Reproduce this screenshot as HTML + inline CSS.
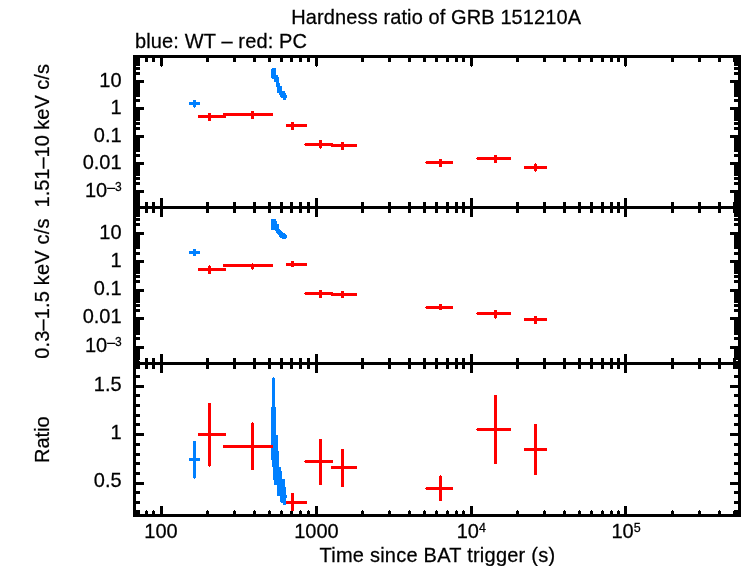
<!DOCTYPE html>
<html lang="en"><head><meta charset="utf-8"><title>Hardness ratio of GRB 151210A</title>
<style>html,body{margin:0;padding:0;background:#fff;overflow:hidden}svg{display:block}text{font-family:"Liberation Sans",sans-serif;fill:#000;stroke:#000;stroke-width:0.25px}</style></head><body>
<svg width="742" height="566" viewBox="0 0 742 566">
<rect width="742" height="566" fill="#fff"/>
<g fill="#000000" shape-rendering="crispEdges">
<rect x="133" y="55" width="3" height="462"/>
<rect x="738" y="55" width="3" height="462"/>
<rect x="133" y="55" width="608" height="3"/>
<rect x="133" y="514" width="608" height="3"/>
<rect x="133" y="206" width="608" height="3"/>
<rect x="133" y="362" width="608" height="3"/>
<rect x="145" y="58" width="3" height="4"/>
<rect x="145" y="511" width="3" height="3"/>
<rect x="146" y="510" width="1" height="1"/>
<rect x="145" y="202" width="3" height="11"/>
<rect x="145" y="358" width="3" height="11"/>
<rect x="152" y="58" width="3" height="4"/>
<rect x="152" y="511" width="3" height="3"/>
<rect x="153" y="510" width="1" height="1"/>
<rect x="152" y="202" width="3" height="11"/>
<rect x="152" y="358" width="3" height="11"/>
<rect x="160" y="58" width="3" height="8"/>
<rect x="161" y="66" width="1" height="1"/>
<rect x="160" y="506" width="3" height="8"/>
<rect x="160" y="198" width="3" height="19"/>
<rect x="160" y="354" width="3" height="19"/>
<rect x="206" y="58" width="3" height="4"/>
<rect x="206" y="511" width="3" height="3"/>
<rect x="207" y="510" width="1" height="1"/>
<rect x="206" y="202" width="3" height="11"/>
<rect x="206" y="358" width="3" height="11"/>
<rect x="233" y="58" width="3" height="4"/>
<rect x="233" y="511" width="3" height="3"/>
<rect x="234" y="510" width="1" height="1"/>
<rect x="233" y="202" width="3" height="11"/>
<rect x="233" y="358" width="3" height="11"/>
<rect x="253" y="58" width="3" height="4"/>
<rect x="253" y="511" width="3" height="3"/>
<rect x="254" y="510" width="1" height="1"/>
<rect x="253" y="202" width="3" height="11"/>
<rect x="253" y="358" width="3" height="11"/>
<rect x="268" y="58" width="3" height="4"/>
<rect x="268" y="511" width="3" height="3"/>
<rect x="269" y="510" width="1" height="1"/>
<rect x="268" y="202" width="3" height="11"/>
<rect x="268" y="358" width="3" height="11"/>
<rect x="280" y="58" width="3" height="4"/>
<rect x="280" y="511" width="3" height="3"/>
<rect x="281" y="510" width="1" height="1"/>
<rect x="280" y="202" width="3" height="11"/>
<rect x="280" y="358" width="3" height="11"/>
<rect x="290" y="58" width="3" height="4"/>
<rect x="290" y="511" width="3" height="3"/>
<rect x="291" y="510" width="1" height="1"/>
<rect x="290" y="202" width="3" height="11"/>
<rect x="290" y="358" width="3" height="11"/>
<rect x="299" y="58" width="3" height="4"/>
<rect x="299" y="511" width="3" height="3"/>
<rect x="300" y="510" width="1" height="1"/>
<rect x="299" y="202" width="3" height="11"/>
<rect x="299" y="358" width="3" height="11"/>
<rect x="307" y="58" width="3" height="4"/>
<rect x="307" y="511" width="3" height="3"/>
<rect x="308" y="510" width="1" height="1"/>
<rect x="307" y="202" width="3" height="11"/>
<rect x="307" y="358" width="3" height="11"/>
<rect x="315" y="58" width="3" height="8"/>
<rect x="316" y="66" width="1" height="1"/>
<rect x="315" y="506" width="3" height="8"/>
<rect x="315" y="198" width="3" height="19"/>
<rect x="315" y="354" width="3" height="19"/>
<rect x="361" y="58" width="3" height="4"/>
<rect x="361" y="511" width="3" height="3"/>
<rect x="362" y="510" width="1" height="1"/>
<rect x="361" y="202" width="3" height="11"/>
<rect x="361" y="358" width="3" height="11"/>
<rect x="388" y="58" width="3" height="4"/>
<rect x="388" y="511" width="3" height="3"/>
<rect x="389" y="510" width="1" height="1"/>
<rect x="388" y="202" width="3" height="11"/>
<rect x="388" y="358" width="3" height="11"/>
<rect x="408" y="58" width="3" height="4"/>
<rect x="408" y="511" width="3" height="3"/>
<rect x="409" y="510" width="1" height="1"/>
<rect x="408" y="202" width="3" height="11"/>
<rect x="408" y="358" width="3" height="11"/>
<rect x="423" y="58" width="3" height="4"/>
<rect x="423" y="511" width="3" height="3"/>
<rect x="424" y="510" width="1" height="1"/>
<rect x="423" y="202" width="3" height="11"/>
<rect x="423" y="358" width="3" height="11"/>
<rect x="435" y="58" width="3" height="4"/>
<rect x="435" y="511" width="3" height="3"/>
<rect x="436" y="510" width="1" height="1"/>
<rect x="435" y="202" width="3" height="11"/>
<rect x="435" y="358" width="3" height="11"/>
<rect x="446" y="58" width="3" height="4"/>
<rect x="446" y="511" width="3" height="3"/>
<rect x="447" y="510" width="1" height="1"/>
<rect x="446" y="202" width="3" height="11"/>
<rect x="446" y="358" width="3" height="11"/>
<rect x="455" y="58" width="3" height="4"/>
<rect x="455" y="511" width="3" height="3"/>
<rect x="456" y="510" width="1" height="1"/>
<rect x="455" y="202" width="3" height="11"/>
<rect x="455" y="358" width="3" height="11"/>
<rect x="462" y="58" width="3" height="4"/>
<rect x="462" y="511" width="3" height="3"/>
<rect x="463" y="510" width="1" height="1"/>
<rect x="462" y="202" width="3" height="11"/>
<rect x="462" y="358" width="3" height="11"/>
<rect x="470" y="58" width="3" height="8"/>
<rect x="471" y="66" width="1" height="1"/>
<rect x="470" y="506" width="3" height="8"/>
<rect x="470" y="198" width="3" height="19"/>
<rect x="470" y="354" width="3" height="19"/>
<rect x="516" y="58" width="3" height="4"/>
<rect x="516" y="511" width="3" height="3"/>
<rect x="517" y="510" width="1" height="1"/>
<rect x="516" y="202" width="3" height="11"/>
<rect x="516" y="358" width="3" height="11"/>
<rect x="543" y="58" width="3" height="4"/>
<rect x="543" y="511" width="3" height="3"/>
<rect x="544" y="510" width="1" height="1"/>
<rect x="543" y="202" width="3" height="11"/>
<rect x="543" y="358" width="3" height="11"/>
<rect x="563" y="58" width="3" height="4"/>
<rect x="563" y="511" width="3" height="3"/>
<rect x="564" y="510" width="1" height="1"/>
<rect x="563" y="202" width="3" height="11"/>
<rect x="563" y="358" width="3" height="11"/>
<rect x="578" y="58" width="3" height="4"/>
<rect x="578" y="511" width="3" height="3"/>
<rect x="579" y="510" width="1" height="1"/>
<rect x="578" y="202" width="3" height="11"/>
<rect x="578" y="358" width="3" height="11"/>
<rect x="590" y="58" width="3" height="4"/>
<rect x="590" y="511" width="3" height="3"/>
<rect x="591" y="510" width="1" height="1"/>
<rect x="590" y="202" width="3" height="11"/>
<rect x="590" y="358" width="3" height="11"/>
<rect x="601" y="58" width="3" height="4"/>
<rect x="601" y="511" width="3" height="3"/>
<rect x="602" y="510" width="1" height="1"/>
<rect x="601" y="202" width="3" height="11"/>
<rect x="601" y="358" width="3" height="11"/>
<rect x="610" y="58" width="3" height="4"/>
<rect x="610" y="511" width="3" height="3"/>
<rect x="611" y="510" width="1" height="1"/>
<rect x="610" y="202" width="3" height="11"/>
<rect x="610" y="358" width="3" height="11"/>
<rect x="617" y="58" width="3" height="4"/>
<rect x="617" y="511" width="3" height="3"/>
<rect x="618" y="510" width="1" height="1"/>
<rect x="617" y="202" width="3" height="11"/>
<rect x="617" y="358" width="3" height="11"/>
<rect x="624" y="58" width="3" height="8"/>
<rect x="625" y="66" width="1" height="1"/>
<rect x="624" y="506" width="3" height="8"/>
<rect x="624" y="198" width="3" height="19"/>
<rect x="624" y="354" width="3" height="19"/>
<rect x="671" y="58" width="3" height="4"/>
<rect x="671" y="511" width="3" height="3"/>
<rect x="672" y="510" width="1" height="1"/>
<rect x="671" y="202" width="3" height="11"/>
<rect x="671" y="358" width="3" height="11"/>
<rect x="698" y="58" width="3" height="4"/>
<rect x="698" y="511" width="3" height="3"/>
<rect x="699" y="510" width="1" height="1"/>
<rect x="698" y="202" width="3" height="11"/>
<rect x="698" y="358" width="3" height="11"/>
<rect x="718" y="58" width="3" height="4"/>
<rect x="718" y="511" width="3" height="3"/>
<rect x="719" y="510" width="1" height="1"/>
<rect x="718" y="202" width="3" height="11"/>
<rect x="718" y="358" width="3" height="11"/>
<rect x="733" y="58" width="3" height="4"/>
<rect x="733" y="511" width="3" height="3"/>
<rect x="734" y="510" width="1" height="1"/>
<rect x="733" y="202" width="3" height="11"/>
<rect x="733" y="358" width="3" height="11"/>
<rect x="136" y="204" width="4" height="3"/>
<rect x="734" y="204" width="4" height="3"/>
<rect x="136" y="201" width="4" height="3"/>
<rect x="734" y="201" width="4" height="3"/>
<rect x="136" y="198" width="4" height="3"/>
<rect x="734" y="198" width="4" height="3"/>
<rect x="136" y="196" width="4" height="3"/>
<rect x="734" y="196" width="4" height="3"/>
<rect x="136" y="194" width="4" height="3"/>
<rect x="734" y="194" width="4" height="3"/>
<rect x="136" y="193" width="4" height="3"/>
<rect x="734" y="193" width="4" height="3"/>
<rect x="136" y="191" width="4" height="3"/>
<rect x="734" y="191" width="4" height="3"/>
<rect x="136" y="190" width="8" height="3"/>
<rect x="730" y="190" width="8" height="3"/>
<rect x="136" y="182" width="4" height="3"/>
<rect x="734" y="182" width="4" height="3"/>
<rect x="136" y="177" width="4" height="3"/>
<rect x="734" y="177" width="4" height="3"/>
<rect x="136" y="173" width="4" height="3"/>
<rect x="734" y="173" width="4" height="3"/>
<rect x="136" y="171" width="4" height="3"/>
<rect x="734" y="171" width="4" height="3"/>
<rect x="136" y="169" width="4" height="3"/>
<rect x="734" y="169" width="4" height="3"/>
<rect x="136" y="167" width="4" height="3"/>
<rect x="734" y="167" width="4" height="3"/>
<rect x="136" y="165" width="4" height="3"/>
<rect x="734" y="165" width="4" height="3"/>
<rect x="136" y="164" width="4" height="3"/>
<rect x="734" y="164" width="4" height="3"/>
<rect x="136" y="162" width="8" height="3"/>
<rect x="730" y="162" width="8" height="3"/>
<rect x="136" y="154" width="4" height="3"/>
<rect x="734" y="154" width="4" height="3"/>
<rect x="136" y="149" width="4" height="3"/>
<rect x="734" y="149" width="4" height="3"/>
<rect x="136" y="146" width="4" height="3"/>
<rect x="734" y="146" width="4" height="3"/>
<rect x="136" y="143" width="4" height="3"/>
<rect x="734" y="143" width="4" height="3"/>
<rect x="136" y="141" width="4" height="3"/>
<rect x="734" y="141" width="4" height="3"/>
<rect x="136" y="139" width="4" height="3"/>
<rect x="734" y="139" width="4" height="3"/>
<rect x="136" y="138" width="4" height="3"/>
<rect x="734" y="138" width="4" height="3"/>
<rect x="136" y="136" width="4" height="3"/>
<rect x="734" y="136" width="4" height="3"/>
<rect x="136" y="135" width="8" height="3"/>
<rect x="730" y="135" width="8" height="3"/>
<rect x="136" y="127" width="4" height="3"/>
<rect x="734" y="127" width="4" height="3"/>
<rect x="136" y="122" width="4" height="3"/>
<rect x="734" y="122" width="4" height="3"/>
<rect x="136" y="118" width="4" height="3"/>
<rect x="734" y="118" width="4" height="3"/>
<rect x="136" y="116" width="4" height="3"/>
<rect x="734" y="116" width="4" height="3"/>
<rect x="136" y="114" width="4" height="3"/>
<rect x="734" y="114" width="4" height="3"/>
<rect x="136" y="112" width="4" height="3"/>
<rect x="734" y="112" width="4" height="3"/>
<rect x="136" y="110" width="4" height="3"/>
<rect x="734" y="110" width="4" height="3"/>
<rect x="136" y="109" width="4" height="3"/>
<rect x="734" y="109" width="4" height="3"/>
<rect x="136" y="107" width="8" height="3"/>
<rect x="730" y="107" width="8" height="3"/>
<rect x="136" y="99" width="4" height="3"/>
<rect x="734" y="99" width="4" height="3"/>
<rect x="136" y="94" width="4" height="3"/>
<rect x="734" y="94" width="4" height="3"/>
<rect x="136" y="91" width="4" height="3"/>
<rect x="734" y="91" width="4" height="3"/>
<rect x="136" y="88" width="4" height="3"/>
<rect x="734" y="88" width="4" height="3"/>
<rect x="136" y="86" width="4" height="3"/>
<rect x="734" y="86" width="4" height="3"/>
<rect x="136" y="84" width="4" height="3"/>
<rect x="734" y="84" width="4" height="3"/>
<rect x="136" y="83" width="4" height="3"/>
<rect x="734" y="83" width="4" height="3"/>
<rect x="136" y="81" width="4" height="3"/>
<rect x="734" y="81" width="4" height="3"/>
<rect x="136" y="80" width="8" height="3"/>
<rect x="730" y="80" width="8" height="3"/>
<rect x="136" y="72" width="4" height="3"/>
<rect x="734" y="72" width="4" height="3"/>
<rect x="136" y="67" width="4" height="3"/>
<rect x="734" y="67" width="4" height="3"/>
<rect x="136" y="63" width="4" height="3"/>
<rect x="734" y="63" width="4" height="3"/>
<rect x="136" y="61" width="4" height="3"/>
<rect x="734" y="61" width="4" height="3"/>
<rect x="136" y="59" width="4" height="3"/>
<rect x="734" y="59" width="4" height="3"/>
<rect x="136" y="57" width="4" height="3"/>
<rect x="734" y="57" width="4" height="3"/>
<rect x="136" y="361" width="4" height="3"/>
<rect x="734" y="361" width="4" height="3"/>
<rect x="136" y="357" width="4" height="3"/>
<rect x="734" y="357" width="4" height="3"/>
<rect x="136" y="354" width="4" height="3"/>
<rect x="734" y="354" width="4" height="3"/>
<rect x="136" y="352" width="4" height="3"/>
<rect x="734" y="352" width="4" height="3"/>
<rect x="136" y="350" width="4" height="3"/>
<rect x="734" y="350" width="4" height="3"/>
<rect x="136" y="349" width="4" height="3"/>
<rect x="734" y="349" width="4" height="3"/>
<rect x="136" y="347" width="4" height="3"/>
<rect x="734" y="347" width="4" height="3"/>
<rect x="136" y="346" width="8" height="3"/>
<rect x="730" y="346" width="8" height="3"/>
<rect x="136" y="337" width="4" height="3"/>
<rect x="734" y="337" width="4" height="3"/>
<rect x="136" y="332" width="4" height="3"/>
<rect x="734" y="332" width="4" height="3"/>
<rect x="136" y="329" width="4" height="3"/>
<rect x="734" y="329" width="4" height="3"/>
<rect x="136" y="326" width="4" height="3"/>
<rect x="734" y="326" width="4" height="3"/>
<rect x="136" y="324" width="4" height="3"/>
<rect x="734" y="324" width="4" height="3"/>
<rect x="136" y="322" width="4" height="3"/>
<rect x="734" y="322" width="4" height="3"/>
<rect x="136" y="320" width="4" height="3"/>
<rect x="734" y="320" width="4" height="3"/>
<rect x="136" y="319" width="4" height="3"/>
<rect x="734" y="319" width="4" height="3"/>
<rect x="136" y="317" width="8" height="3"/>
<rect x="730" y="317" width="8" height="3"/>
<rect x="136" y="309" width="4" height="3"/>
<rect x="734" y="309" width="4" height="3"/>
<rect x="136" y="304" width="4" height="3"/>
<rect x="734" y="304" width="4" height="3"/>
<rect x="136" y="300" width="4" height="3"/>
<rect x="734" y="300" width="4" height="3"/>
<rect x="136" y="297" width="4" height="3"/>
<rect x="734" y="297" width="4" height="3"/>
<rect x="136" y="295" width="4" height="3"/>
<rect x="734" y="295" width="4" height="3"/>
<rect x="136" y="293" width="4" height="3"/>
<rect x="734" y="293" width="4" height="3"/>
<rect x="136" y="291" width="4" height="3"/>
<rect x="734" y="291" width="4" height="3"/>
<rect x="136" y="290" width="4" height="3"/>
<rect x="734" y="290" width="4" height="3"/>
<rect x="136" y="289" width="8" height="3"/>
<rect x="730" y="289" width="8" height="3"/>
<rect x="136" y="280" width="4" height="3"/>
<rect x="734" y="280" width="4" height="3"/>
<rect x="136" y="275" width="4" height="3"/>
<rect x="734" y="275" width="4" height="3"/>
<rect x="136" y="271" width="4" height="3"/>
<rect x="734" y="271" width="4" height="3"/>
<rect x="136" y="269" width="4" height="3"/>
<rect x="734" y="269" width="4" height="3"/>
<rect x="136" y="266" width="4" height="3"/>
<rect x="734" y="266" width="4" height="3"/>
<rect x="136" y="265" width="4" height="3"/>
<rect x="734" y="265" width="4" height="3"/>
<rect x="136" y="263" width="4" height="3"/>
<rect x="734" y="263" width="4" height="3"/>
<rect x="136" y="261" width="4" height="3"/>
<rect x="734" y="261" width="4" height="3"/>
<rect x="136" y="260" width="8" height="3"/>
<rect x="730" y="260" width="8" height="3"/>
<rect x="136" y="252" width="4" height="3"/>
<rect x="734" y="252" width="4" height="3"/>
<rect x="136" y="246" width="4" height="3"/>
<rect x="734" y="246" width="4" height="3"/>
<rect x="136" y="243" width="4" height="3"/>
<rect x="734" y="243" width="4" height="3"/>
<rect x="136" y="240" width="4" height="3"/>
<rect x="734" y="240" width="4" height="3"/>
<rect x="136" y="238" width="4" height="3"/>
<rect x="734" y="238" width="4" height="3"/>
<rect x="136" y="236" width="4" height="3"/>
<rect x="734" y="236" width="4" height="3"/>
<rect x="136" y="234" width="4" height="3"/>
<rect x="734" y="234" width="4" height="3"/>
<rect x="136" y="233" width="4" height="3"/>
<rect x="734" y="233" width="4" height="3"/>
<rect x="136" y="232" width="8" height="3"/>
<rect x="730" y="232" width="8" height="3"/>
<rect x="136" y="223" width="4" height="3"/>
<rect x="734" y="223" width="4" height="3"/>
<rect x="136" y="218" width="4" height="3"/>
<rect x="734" y="218" width="4" height="3"/>
<rect x="136" y="214" width="4" height="3"/>
<rect x="734" y="214" width="4" height="3"/>
<rect x="136" y="212" width="4" height="3"/>
<rect x="734" y="212" width="4" height="3"/>
<rect x="136" y="209" width="4" height="3"/>
<rect x="734" y="209" width="4" height="3"/>
<rect x="136" y="207" width="4" height="3"/>
<rect x="734" y="207" width="4" height="3"/>
<rect x="136" y="366" width="4" height="3"/>
<rect x="734" y="366" width="4" height="3"/>
<rect x="136" y="375" width="4" height="3"/>
<rect x="734" y="375" width="4" height="3"/>
<rect x="136" y="385" width="8" height="3"/>
<rect x="730" y="385" width="8" height="3"/>
<rect x="136" y="394" width="4" height="3"/>
<rect x="734" y="394" width="4" height="3"/>
<rect x="136" y="404" width="4" height="3"/>
<rect x="734" y="404" width="4" height="3"/>
<rect x="136" y="414" width="4" height="3"/>
<rect x="734" y="414" width="4" height="3"/>
<rect x="136" y="423" width="4" height="3"/>
<rect x="734" y="423" width="4" height="3"/>
<rect x="136" y="433" width="8" height="3"/>
<rect x="730" y="433" width="8" height="3"/>
<rect x="136" y="443" width="4" height="3"/>
<rect x="734" y="443" width="4" height="3"/>
<rect x="136" y="453" width="4" height="3"/>
<rect x="734" y="453" width="4" height="3"/>
<rect x="136" y="462" width="4" height="3"/>
<rect x="734" y="462" width="4" height="3"/>
<rect x="136" y="472" width="4" height="3"/>
<rect x="734" y="472" width="4" height="3"/>
<rect x="136" y="482" width="8" height="3"/>
<rect x="730" y="482" width="8" height="3"/>
<rect x="136" y="491" width="4" height="3"/>
<rect x="734" y="491" width="4" height="3"/>
<rect x="136" y="501" width="4" height="3"/>
<rect x="734" y="501" width="4" height="3"/>
<rect x="136" y="510" width="4" height="3"/>
<rect x="734" y="510" width="4" height="3"/>
<rect x="136" y="360" width="3" height="2"/>
<rect x="735" y="360" width="3" height="2"/>
<rect x="136" y="513" width="4" height="1"/>
<rect x="734" y="513" width="4" height="1"/>
<rect x="136" y="365" width="4" height="4"/>
<rect x="734" y="365" width="4" height="4"/>
</g>
<rect x="736" y="360" width="2" height="1" fill="#fff" shape-rendering="crispEdges"/>
<g fill="#0080ff" shape-rendering="crispEdges">
<polygon points="272,68 276,68 276,75 278,75 278,77 279,77 279,83 280,83 280,86 282,86 282,91 285,91 285,93 286,93 286,95 287,95 287,98 286,98 286,100 283,100 283,98 281,98 281,97 280,97 280,95 279,95 279,93 277,93 277,87 276,87 276,82 274,82 274,79 272,79 272,78 271,78 271,69 272,69"/>
<polygon points="271,219 276,219 276,221 277,221 277,224 279,224 279,229 280,229 280,230 281,230 281,231 282,231 282,232 283,232 283,233 285,233 285,234 286,234 286,235 287,235 287,238 286,238 286,239 282,239 282,238 280,238 280,237 279,237 279,235 278,235 278,234 277,234 277,233 276,233 276,231 275,231 275,230 271,230"/>
<polygon points="273,377 274,377 274,378 275,378 275,407 276,407 276,435 278,435 278,451 279,451 279,467 281,467 281,471 282,471 282,479 285,479 285,487 286,487 286,495 287,495 287,498 286,498 286,505 283,505 283,503 281,503 281,502 280,502 280,496 277,496 277,485 274,485 274,480 273,480 273,467 272,467 272,460 271,460 271,407 272,407 272,378 273,378"/>
</g>
<g fill="#0080ff" shape-rendering="crispEdges">
<rect x="189" y="102" width="11" height="3"/>
<rect x="194" y="107" width="1" height="1"/>
<rect x="193" y="100" width="3" height="7"/>
<rect x="189" y="251" width="11" height="3"/>
<rect x="193" y="249" width="3" height="7"/>
<rect x="189" y="458" width="11" height="3"/>
<rect x="194" y="478" width="1" height="1"/>
<rect x="193" y="441" width="3" height="37"/>
</g>
<g fill="#ff0000" shape-rendering="crispEdges">
<rect x="198" y="115" width="28" height="3"/>
<rect x="208" y="113" width="3" height="8"/>
<rect x="223" y="113" width="50" height="3"/>
<rect x="251" y="111" width="3" height="8"/>
<rect x="286" y="124" width="21" height="3"/>
<rect x="291" y="122" width="3" height="8"/>
<rect x="304" y="144" width="1" height="1"/>
<rect x="305" y="143" width="28" height="3"/>
<rect x="320" y="148" width="1" height="1"/>
<rect x="319" y="140" width="3" height="8"/>
<rect x="331" y="144" width="26" height="3"/>
<rect x="341" y="142" width="3" height="8"/>
<rect x="425" y="162" width="1" height="1"/>
<rect x="426" y="161" width="27" height="3"/>
<rect x="439" y="159" width="3" height="8"/>
<rect x="476" y="158" width="1" height="1"/>
<rect x="477" y="157" width="34" height="3"/>
<rect x="494" y="155" width="3" height="8"/>
<rect x="524" y="166" width="23" height="3"/>
<rect x="535" y="163" width="1" height="1"/>
<rect x="535" y="171" width="1" height="1"/>
<rect x="534" y="164" width="3" height="7"/>
<rect x="198" y="268" width="28" height="3"/>
<rect x="209" y="265" width="1" height="1"/>
<rect x="208" y="266" width="3" height="8"/>
<rect x="223" y="264" width="50" height="3"/>
<rect x="252" y="263" width="1" height="1"/>
<rect x="252" y="269" width="1" height="1"/>
<rect x="251" y="264" width="3" height="5"/>
<rect x="286" y="263" width="21" height="3"/>
<rect x="291" y="261" width="3" height="6"/>
<rect x="304" y="293" width="1" height="1"/>
<rect x="305" y="292" width="28" height="3"/>
<rect x="319" y="290" width="3" height="8"/>
<rect x="331" y="293" width="26" height="3"/>
<rect x="341" y="291" width="3" height="7"/>
<rect x="425" y="307" width="1" height="1"/>
<rect x="426" y="306" width="27" height="3"/>
<rect x="439" y="304" width="3" height="6"/>
<rect x="476" y="313" width="1" height="1"/>
<rect x="477" y="312" width="34" height="3"/>
<rect x="495" y="318" width="1" height="1"/>
<rect x="494" y="310" width="3" height="8"/>
<rect x="524" y="318" width="23" height="3"/>
<rect x="534" y="316" width="3" height="8"/>
<rect x="198" y="433" width="28" height="3"/>
<rect x="209" y="466" width="1" height="1"/>
<rect x="208" y="403" width="3" height="63"/>
<rect x="223" y="445" width="50" height="3"/>
<rect x="252" y="422" width="1" height="1"/>
<rect x="251" y="423" width="3" height="47"/>
<rect x="286" y="501" width="21" height="3"/>
<rect x="291" y="493" width="3" height="18"/>
<rect x="304" y="461" width="1" height="1"/>
<rect x="305" y="460" width="28" height="3"/>
<rect x="319" y="439" width="3" height="46"/>
<rect x="331" y="466" width="26" height="3"/>
<rect x="341" y="449" width="3" height="38"/>
<rect x="425" y="488" width="1" height="1"/>
<rect x="426" y="487" width="27" height="3"/>
<rect x="440" y="475" width="1" height="1"/>
<rect x="439" y="476" width="3" height="25"/>
<rect x="476" y="429" width="1" height="1"/>
<rect x="477" y="428" width="34" height="3"/>
<rect x="494" y="395" width="3" height="69"/>
<rect x="524" y="448" width="23" height="3"/>
<rect x="534" y="424" width="3" height="51"/>
</g>
<g>
<text transform="translate(436.2 23.9) scale(1 1.04)" font-size="20" text-anchor="middle" textLength="289.8" lengthAdjust="spacing">Hardness ratio of GRB 151210A</text>
<text transform="translate(135 47.9) scale(1 1.04)" font-size="20" text-anchor="start" textLength="172" lengthAdjust="spacing">blue: WT – red: PC</text>
<text transform="translate(437.3 562) scale(1 1.04)" font-size="20" text-anchor="middle" textLength="235.6" lengthAdjust="spacing">Time since BAT trigger (s)</text>
<text transform="translate(161 538) scale(1 1.04)" font-size="20" text-anchor="middle">100</text>
<text transform="translate(316.4 538) scale(1 1.04)" font-size="20" text-anchor="middle">1000</text>
<text transform="translate(471.3 538) scale(1 1.04)" font-size="20" text-anchor="middle">10<tspan font-size="12.5" dy="-6">4</tspan></text>
<text transform="translate(626 538) scale(1 1.04)" font-size="20" text-anchor="middle">10<tspan font-size="12.5" dy="-6">5</tspan></text>
<text transform="translate(121.6 86.9) scale(1 1.04)" font-size="20" text-anchor="end">10</text>
<text transform="translate(121.6 113.9) scale(1 1.04)" font-size="20" text-anchor="end">1</text>
<text transform="translate(121.6 141.6) scale(1 1.04)" font-size="20" text-anchor="end">0.1</text>
<text transform="translate(121.6 168.9) scale(1 1.04)" font-size="20" text-anchor="end">0.01</text>
<text transform="translate(121.6 196.9) scale(1 1.04)" font-size="20" text-anchor="end">10<tspan font-size="14" dy="-4.8">–</tspan><tspan font-size="12" dy="-1.2">3</tspan></text>
<text transform="translate(121.6 238.9) scale(1 1.04)" font-size="20" text-anchor="end">10</text>
<text transform="translate(121.6 266.8) scale(1 1.04)" font-size="20" text-anchor="end">1</text>
<text transform="translate(121.6 295.1) scale(1 1.04)" font-size="20" text-anchor="end">0.1</text>
<text transform="translate(121.6 323.4) scale(1 1.04)" font-size="20" text-anchor="end">0.01</text>
<text transform="translate(121.6 352.2) scale(1 1.04)" font-size="20" text-anchor="end">10<tspan font-size="14" dy="-4.8">–</tspan><tspan font-size="12" dy="-1.2">3</tspan></text>
<text transform="translate(121.6 391.1) scale(1 1.04)" font-size="20" text-anchor="end">1.5</text>
<text transform="translate(121.6 439.3) scale(1 1.04)" font-size="20" text-anchor="end">1</text>
<text transform="translate(121.6 487.3) scale(1 1.04)" font-size="20" text-anchor="end">0.5</text>
<text transform="translate(48.6 135.8) rotate(-90) scale(1 1.04)" font-size="20" text-anchor="middle">1.51–10 keV c/s</text>
<text transform="translate(48.6 288.7) rotate(-90) scale(1 1.04)" font-size="20" text-anchor="middle" textLength="140.3" lengthAdjust="spacing">0.3–1.5 keV c/s</text>
<text transform="translate(48.6 439.6) rotate(-90) scale(1 1.04)" font-size="20" text-anchor="middle">Ratio</text>
</g>
</svg></body></html>
